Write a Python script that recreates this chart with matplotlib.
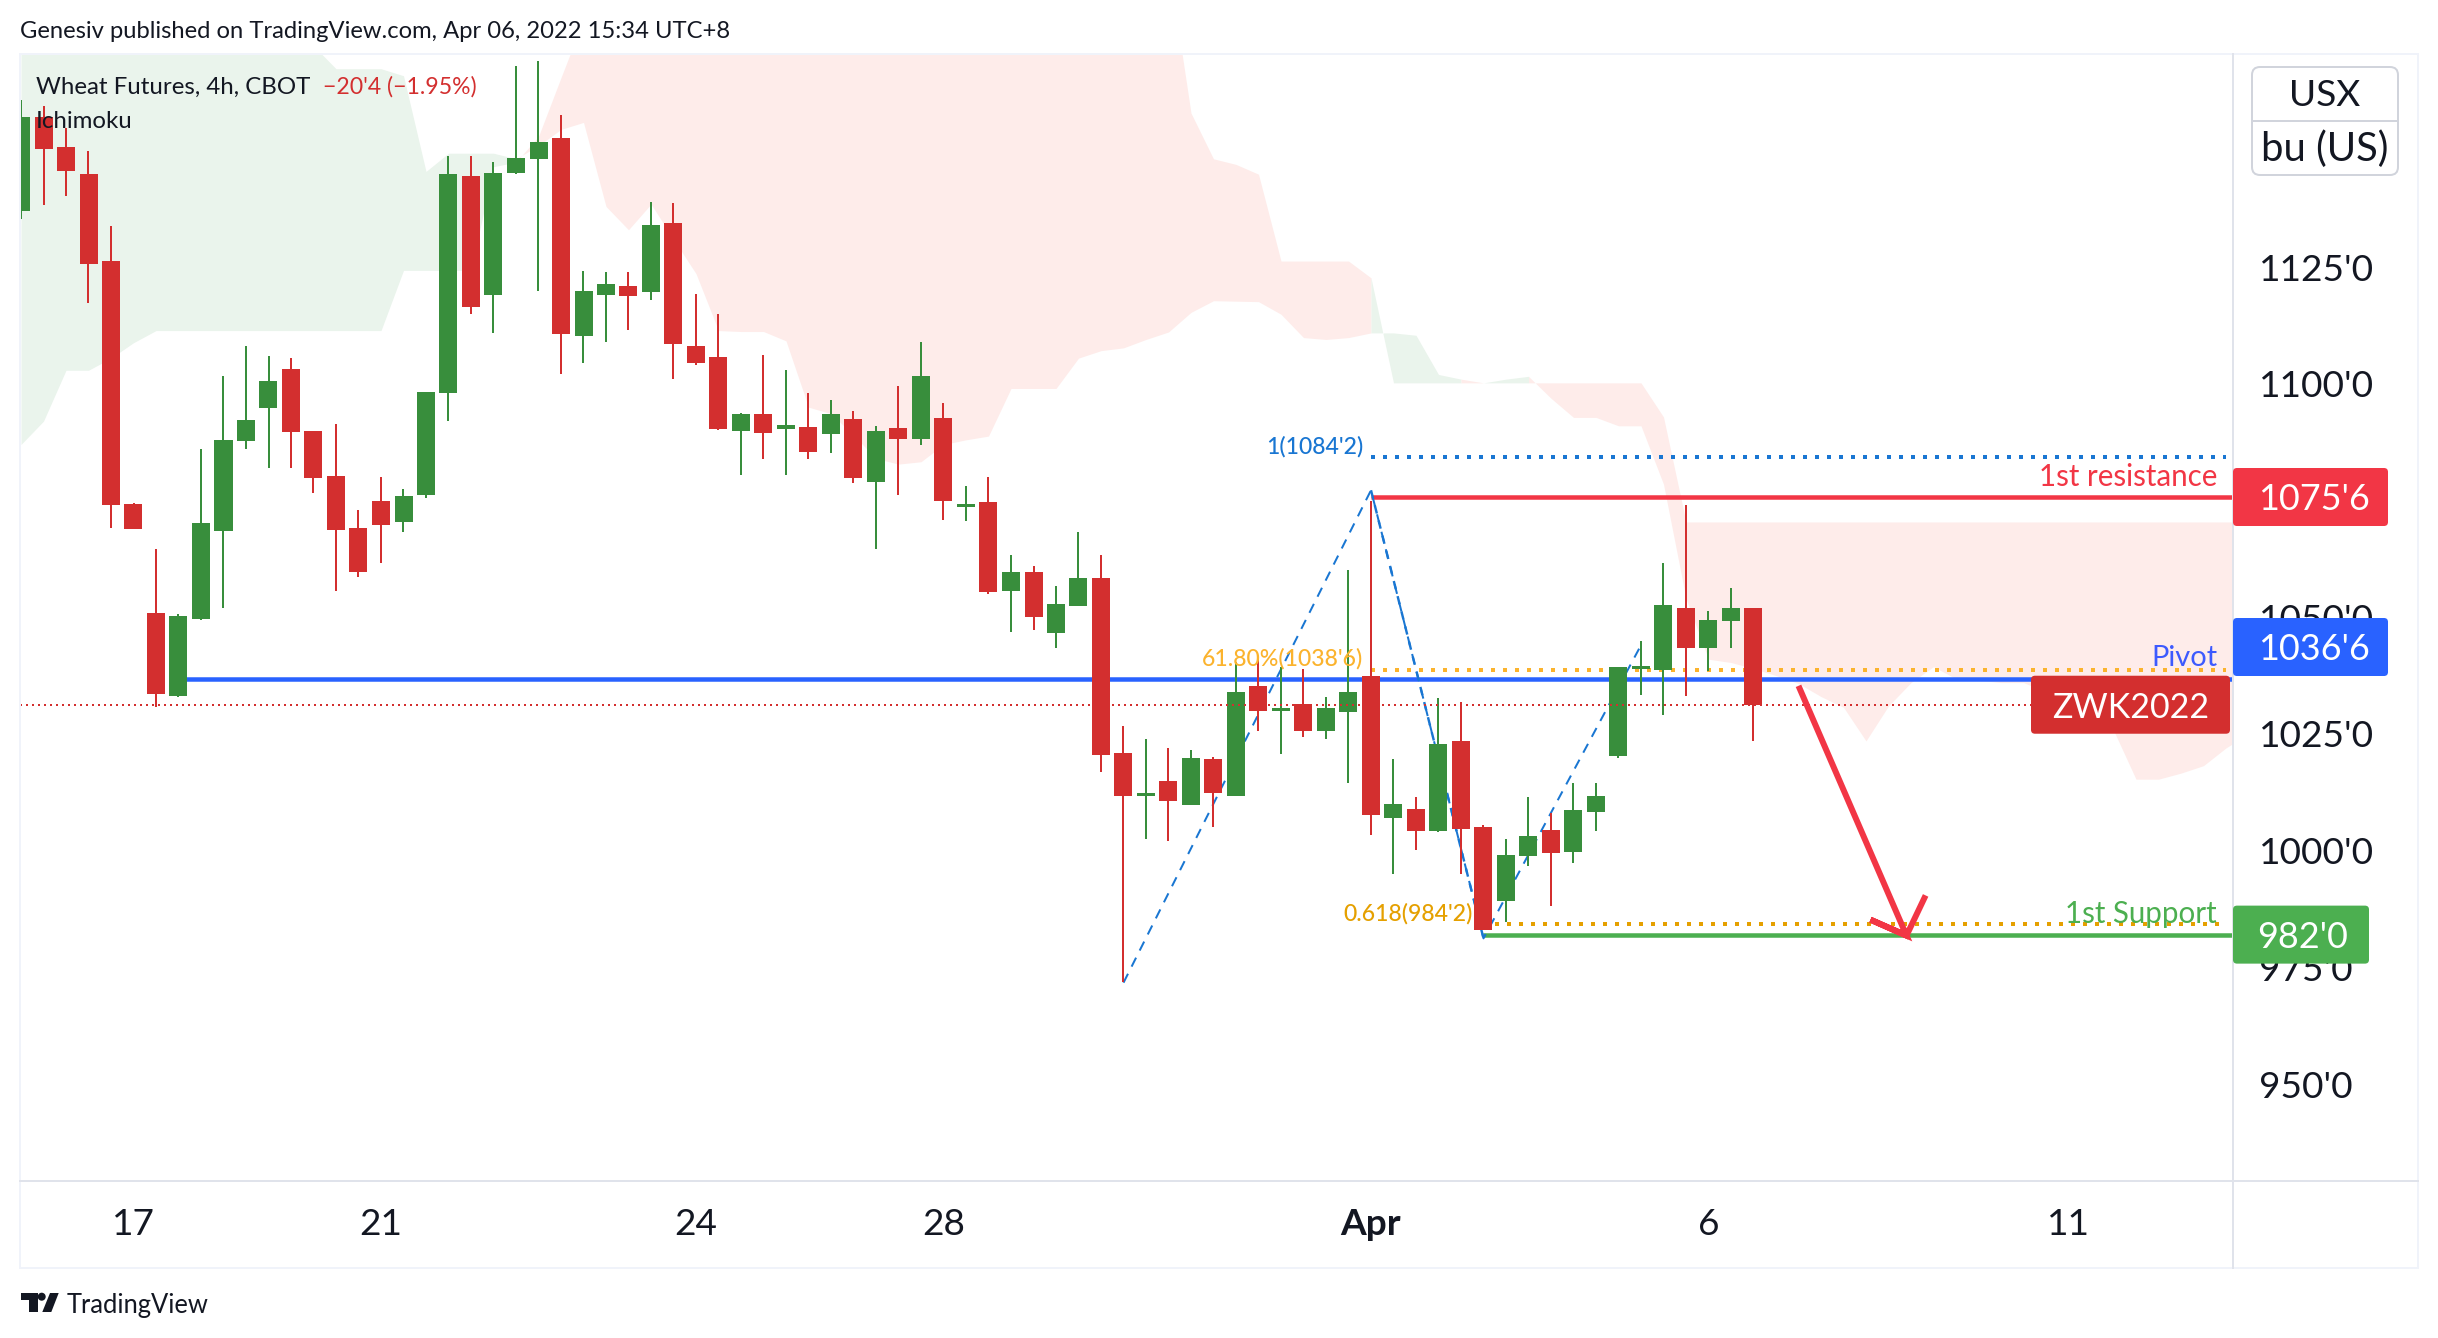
import matplotlib
matplotlib.use('Agg')
import matplotlib.pyplot as plt
from matplotlib.patches import FancyBboxPatch, Polygon, Circle, Rectangle
import numpy as np

plt.rcParams['font.family'] = ['Lato', 'DejaVu Sans']

# 1. DATA (prices, one entry per 4h bar)
opens = [1137.0, 1157.1, 1150.7, 1145.0, 1126.3, 1074.2, 1050.9, 1033.2, 1049.6, 1068.5,
         1087.8, 1094.8, 1103.2, 1089.9, 1080.3, 1069.1, 1074.9, 1070.4, 1076.2, 1098.0,
         1144.5, 1119.1, 1145.1, 1148.1, 1152.7, 1110.2, 1119.0, 1120.9, 1119.7, 1134.5,
         1108.1, 1105.7, 1089.9, 1093.6, 1090.3, 1090.8, 1089.3, 1092.4, 1078.9, 1090.5,
         1088.2, 1092.7, 1073.7, 1074.7, 1055.6, 1059.7, 1046.6, 1052.4, 1058.4, 1020.9,
         1011.6, 1014.9, 1009.8, 1019.6, 1011.7, 1035.2, 1029.9, 1031.5, 1025.7, 1029.7,
         1037.4, 1007.0, 1008.9, 1004.2, 1023.5, 1005.0, 989.2, 998.8, 1004.4, 999.7,
         1008.2, 1020.2, 1039.0, 1038.7, 1052.0, 1043.5, 1049.2, 1052.0]
highs = [1160.8, 1159.5, 1154.7, 1149.9, 1133.7, 1074.5, 1064.6, 1050.6, 1086.0, 1101.7,
         1108.0, 1106.0, 1105.5, 1089.9, 1091.4, 1073.0, 1080.0, 1077.5, 1098.3, 1148.8,
         1148.8, 1147.5, 1168.0, 1169.1, 1157.6, 1124.2, 1124.0, 1124.0, 1138.9, 1138.8,
         1119.3, 1115.0, 1093.7, 1106.1, 1103.0, 1098.0, 1096.5, 1094.1, 1091.0, 1099.5,
         1109.0, 1095.9, 1078.1, 1080.1, 1063.3, 1060.9, 1056.6, 1068.2, 1063.3, 1026.7,
         1023.9, 1021.9, 1021.5, 1020.1, 1040.3, 1041.7, 1039.3, 1038.9, 1032.9, 1060.1,
         1074.9, 1019.6, 1011.5, 1032.7, 1031.8, 1005.4, 1002.4, 1011.5, 1008.1, 1014.5,
         1014.5, 1039.3, 1044.9, 1061.6, 1074.0, 1051.3, 1056.3, 1052.0]
lows = [1135.3, 1138.3, 1140.2, 1117.3, 1069.1, 1068.9, 1030.8, 1033.0, 1049.3, 1051.9,
        1086.0, 1081.9, 1081.9, 1076.6, 1055.7, 1058.6, 1061.6, 1068.3, 1075.5, 1092.1,
        1115.0, 1110.9, 1145.0, 1119.9, 1102.1, 1104.5, 1109.0, 1111.6, 1118.0, 1101.0,
        1104.0, 1090.1, 1080.4, 1083.9, 1080.4, 1083.9, 1085.1, 1078.7, 1064.6, 1076.2,
        1086.9, 1070.8, 1070.6, 1054.9, 1046.8, 1047.3, 1043.3, 1052.4, 1016.9, 971.9,
        1002.5, 1002.0, 1009.8, 1005.1, 1011.7, 1025.7, 1020.7, 1024.3, 1023.9, 1014.5,
        1003.3, 995.0, 1000.1, 1004.0, 995.0, 983.0, 984.7, 996.7, 988.1, 997.4,
        1004.2, 1019.9, 1033.3, 1029.0, 1033.1, 1038.4, 1043.5, 1023.5]
closes = [1157.1, 1150.3, 1145.6, 1125.6, 1074.1, 1068.9, 1033.5, 1050.3, 1070.2, 1088.0,
          1092.2, 1100.6, 1089.7, 1079.8, 1068.7, 1059.7, 1069.8, 1076.0, 1098.3, 1145.0,
          1116.5, 1145.1, 1148.4, 1151.8, 1110.7, 1119.9, 1121.4, 1118.8, 1134.0, 1108.5,
          1104.5, 1090.3, 1093.6, 1089.5, 1091.2, 1085.4, 1093.6, 1079.8, 1089.9, 1088.2,
          1101.7, 1074.9, 1074.2, 1055.4, 1059.7, 1050.0, 1052.8, 1058.4, 1020.5, 1011.7,
          1012.4, 1010.6, 1019.8, 1012.4, 1034.0, 1029.9, 1030.5, 1025.7, 1030.5, 1034.0,
          1007.6, 1010.0, 1004.2, 1022.8, 1004.6, 983.0, 999.0, 1003.1, 999.5, 1008.7,
          1011.7, 1039.3, 1039.5, 1052.6, 1043.5, 1049.4, 1052.0, 1031.2]

# ichimoku spans, bar 0 to 99 (values above the pane just get clipped)
span_a = [1180, 1180, 1180, 1180, 1180, 1180, 1180, 1180, 1180, 1180,
          1180, 1180, 1180, 1172.4, 1167.5, 1167.5, 1167.5, 1166, 1145.5, 1149.4,
          1149.4, 1149.4, 1148.2, 1151, 1154.5, 1156, 1138, 1133, 1138.5, 1131,
          1123.6, 1111.4, 1111.2, 1111.2, 1109.2, 1095, 1093.6, 1089, 1084, 1082.8,
          1083.3, 1087, 1088, 1088.8, 1099, 1099, 1099, 1105.5, 1107.1, 1107.7,
          1109.5, 1111.1, 1115.3, 1117.8, 1117.7, 1117.6, 1114.9, 1109.9, 1109.5, 1109.9,
          1110.9, 1110.9, 1110.4, 1102, 1101, 1100.2, 1101, 1101.6, 1096.9, 1092.8,
          1092.8, 1091, 1091, 1078.5, 1054, 1041, 1040.3, 1039, 1037.5, 1035.8,
          1033, 1030.7, 1023.5, 1031, 1036, 1039.4, 1036.8, 1036.5, 1036, 1036,
          1034, 1032, 1029, 1025.8, 1015.3, 1015.3, 1016.6, 1018.2, 1022, 1025]
span_b = [1087, 1092, 1102.9, 1102.9, 1105.5, 1108.8, 1111.4, 1111.4, 1111.4, 1111.4,
          1111.4, 1111.4, 1111.4, 1111.4, 1111.4, 1111.4, 1111.4, 1124.3, 1124.3, 1124.3,
          1124.3, 1146.5, 1147.5, 1153, 1165.6, 1178, 1180, 1180, 1180, 1180,
          1180, 1180, 1180, 1180, 1180, 1180, 1180, 1180, 1180, 1180,
          1180, 1180, 1180, 1180, 1180, 1180, 1180, 1180, 1180, 1180,
          1180, 1190, 1158, 1148.2, 1147, 1144.9, 1126.3, 1126.3, 1126.3, 1126.3,
          1122.7, 1100.2, 1100.2, 1100.2, 1100.2, 1100.2, 1100.2, 1100.2, 1100.2, 1100.2,
          1100.2, 1100.2, 1100.2, 1092.9, 1070.4, 1070.4, 1070.4, 1070.4, 1070.4, 1070.4,
          1070.4, 1070.4, 1070.4, 1070.4, 1070.4, 1070.4, 1070.4, 1070.4, 1070.4, 1070.4,
          1070.4, 1070.4, 1070.4, 1070.4, 1070.4, 1070.4, 1070.4, 1070.4, 1070.4, 1070.4]

zigzag_x = [49, 60, 65, 72]
zigzag_y = [971.7, 1077.2, 981.2, 1044.0]
arrow_x = [79.0, 83.8, 82.2, 83.8, 84.65]
arrow_y = [1035.3, 981.8, 985.2, 981.8, 990.4]

pivot = 1036.75
resistance = 1075.75
support = 982.0
last_price = 1031.25
fib_top = 1084.25
fib_mid = 1038.75
fib_low = 984.25

# 1075'0 sits fully under the resistance tag so it is left out
y_ticks = [950, 975, 1000, 1025, 1050, 1100, 1125]
y_labels = ["950'0", "975'0", "1000'0", "1025'0", "1050'0", "1100'0", "1125'0"]
x_ticks = [5, 16, 30, 41, 60, 75, 91]
x_labels = ['17', '21', '24', '28', 'Apr', '6', '11']

# 2. COLORS
RED = '#D32F2F'
GREEN = '#388E3C'
CLOUD_RED = '#FEECEA'
CLOUD_GREEN = '#EAF4EC'
LINE_RED = '#F23645'
LINE_BLUE = '#2962FF'
LINE_GREEN = '#4CAF50'
FIB_BLUE = '#1976D2'
FIB_YELLOW = '#FBB32D'
FIB_ORANGE = '#E5A000'
INK = '#131722'
BORDER = '#E0E3EB'
FRAME = '#F0F3FA'

W, H = 2438, 1338
PX = 0.72  # one pixel in points at dpi 100


def fs(px):
    return px * PX


# 3. MAIN PANE
fig = plt.figure(figsize=(W / 100, H / 100), dpi=100, facecolor='white')
PANE_L, PANE_R, PANE_T, PANE_B = 20, 2233, 54, 1181
ax = fig.add_axes([PANE_L / W, 1 - PANE_B / H, (PANE_R - PANE_L) / W, (PANE_B - PANE_T) / H])
ax.set_xlim((PANE_L - 21) / 22.5, (PANE_R - 21) / 22.5)
ax.set_ylim(1075.75 - (PANE_B - 497) / 4.668, 1075.75 + (497 - PANE_T) / 4.668)
for s in ax.spines.values():
    s.set_visible(False)

# cloud, colored per segment the way the site does it; runs of one color go in one polygon
cloud_x = np.arange(len(span_a))
a = np.array(span_a, dtype=float)
b = np.array(span_b, dtype=float)
seg_green = a[1:] > b[1:]
start = 0
for k in range(1, len(seg_green) + 1):
    if k == len(seg_green) or seg_green[k] != seg_green[start]:
        c = CLOUD_GREEN if seg_green[start] else CLOUD_RED
        ax.fill_between(cloud_x[start:k + 1], a[start:k + 1], b[start:k + 1], color=c, linewidth=0, zorder=1)
        start = k

# levels under the candles
right_end = 98
ax.hlines(fib_top, 60, right_end, color=FIB_BLUE, lw=4 * PX, linestyles=[(0, (1, 2))], zorder=2)
ax.hlines(fib_mid, 60, right_end, color=FIB_YELLOW, lw=4 * PX, linestyles=[(0, (1, 2))], zorder=2)
ax.hlines(fib_low, 65, right_end, color=FIB_ORANGE, lw=4 * PX, linestyles=[(0, (1, 2))], zorder=2)
ax.hlines(pivot, 7, ax.get_xlim()[1], color=LINE_BLUE, lw=4.5 * PX, zorder=2)
ax.hlines(resistance, 60, ax.get_xlim()[1], color=LINE_RED, lw=4.5 * PX, zorder=2)
ax.hlines(support, 65, ax.get_xlim()[1], color=LINE_GREEN, lw=4.5 * PX, zorder=2)

# fib zigzag, the middle leg was drawn twice on the original
ax.plot(zigzag_x, zigzag_y, color=FIB_BLUE, lw=2 * PX, ls=(0, (5, 4)), zorder=3)
ax.plot(zigzag_x[1:3], zigzag_y[1:3], color=FIB_BLUE, lw=2.4 * PX, ls=(0, (3.5, 3)), zorder=3)

# candles
o = np.array(opens)
h = np.array(highs)
l = np.array(lows)
c = np.array(closes)
x = np.arange(len(o))
colors = [GREEN if cl >= op else RED for op, cl in zip(o, c)]
ax.vlines(x, l, h, colors=colors, lw=2 * PX, zorder=4)
ax.bar(x, np.abs(c - o), bottom=np.minimum(o, c), width=0.8, color=colors, linewidth=0, zorder=4)

# last price line and hand drawn arrow on top
ax.hlines(last_price, ax.get_xlim()[0], right_end, color=RED, lw=2 * PX, linestyles=[(0, (1, 2))], zorder=5)
ax.plot(arrow_x, arrow_y, color=LINE_RED, lw=6 * PX, solid_joinstyle='miter', solid_capstyle='butt', zorder=5)

# axes labels
ax.yaxis.tick_right()
ax.set_yticks(y_ticks)
ax.set_yticklabels(y_labels, fontsize=fs(37), color=INK)
ax.tick_params(axis='y', length=0, pad=26 * PX)
ax.set_xticks(x_ticks)
ax.set_xticklabels(x_labels, fontsize=fs(37), color=INK)
ax.tick_params(axis='x', length=0, pad=27 * PX)
ax.get_xticklabels()[4].set_fontweight('bold')

# 4. OVERLAY IN PIXELS (frame, tags, text)
ov = fig.add_axes([0, 0, 1, 1], zorder=10)
ov.set_xlim(0, W)
ov.set_ylim(H, 0)
ov.axis('off')
ov.patch.set_alpha(0)

ov.add_patch(Rectangle((20, 54), 2398, 1214, fill=False, ec=FRAME, lw=2 * PX, zorder=1))
ov.plot([20, 2418], [1181, 1181], color=BORDER, lw=2 * PX, zorder=1)
ov.plot([2233, 2233], [54, 1268], color=BORDER, lw=2 * PX, zorder=1)


def price_y(p):
    # price to overlay pixel row through the pane's own scale
    return H - ax.transData.transform((0, p))[1]


def tag(x0, x1, yc, text, color, px=36, shift=3):
    box = FancyBboxPatch((x0 + 3, yc - 26), x1 - x0 - 6, 52, boxstyle='round,pad=3,rounding_size=4',
                         fc=color, ec='none', zorder=3)
    ov.add_patch(box)
    ov.text((x0 + x1) / 2 + shift, yc, text, color='white', fontsize=fs(px), ha='center', va='center_baseline', zorder=4)


tag(2233, 2388, price_y(resistance), "1075'6", LINE_RED)
tag(2233, 2388, 647, "1036'6", LINE_BLUE)
tag(2233, 2369, price_y(support), "982'0", LINE_GREEN, shift=2)
tag(2031, 2230, price_y(last_price), 'ZWK2022', RED, px=34, shift=0)


def label(x, y, text, color, px=24, ha='left', **kw):
    ov.text(x, y, text, color=color, fontsize=fs(px), ha=ha, va='center_baseline', zorder=5, **kw)


label(20, 30, 'Genesiv published on TradingView.com, Apr 06, 2022 15:34 UTC+8', INK, px=23.7)
label(36, 85, 'Wheat Futures, 4h, CBOT', INK, px=24)
label(323, 85, "\u221220'4 (\u22121.95%)", RED, px=23)
label(36, 119, 'Ichimoku', INK, px=24)
label(2217, 474, '1st resistance', LINE_RED, px=29.5, ha='right')
label(2217, 656, 'Pivot', '#3D5AFE', px=29, ha='right')
label(2217, 912, '1st Support', LINE_GREEN, px=29.5, ha='right')
label(1363, 445, "1(1084'2)", FIB_BLUE, px=23, ha='right', fontweight='medium')
label(1363, 657, "61.80%(1038'6)", FIB_YELLOW, px=23, ha='right', fontweight='medium')
label(1473, 912, "0.618(984'2)", FIB_ORANGE, px=23, ha='right', fontweight='medium')

# unit box
ov.add_patch(FancyBboxPatch((2258, 73), 134, 96, boxstyle='round,pad=6,rounding_size=8',
                            fc='white', ec='#D1D4DC', lw=2 * PX, zorder=2))
ov.plot([2252, 2398], [121, 121], color='#D1D4DC', lw=2 * PX, zorder=3)
ov.text(2325, 93, 'USX', color=INK, fontsize=fs(37), ha='center', va='center_baseline', zorder=4)
ov.text(2325, 146, 'bu (US)', color=INK, fontsize=fs(40), ha='center', va='center_baseline', zorder=4)

# logo
ov.add_patch(Polygon([(21, 1293), (38, 1293), (38, 1312), (29, 1312), (29, 1300), (21, 1300)], fc=INK, ec='none'))
ov.add_patch(Circle((41.7, 1296.7), 4, fc=INK, ec='none'))
ov.add_patch(Polygon([(50, 1293), (58.7, 1293), (51.3, 1312), (42.3, 1312)], fc=INK, ec='none'))
label(67, 1303, 'TradingView', INK, px=25.5)

plt.savefig('out.png', dpi=100, facecolor='white')
